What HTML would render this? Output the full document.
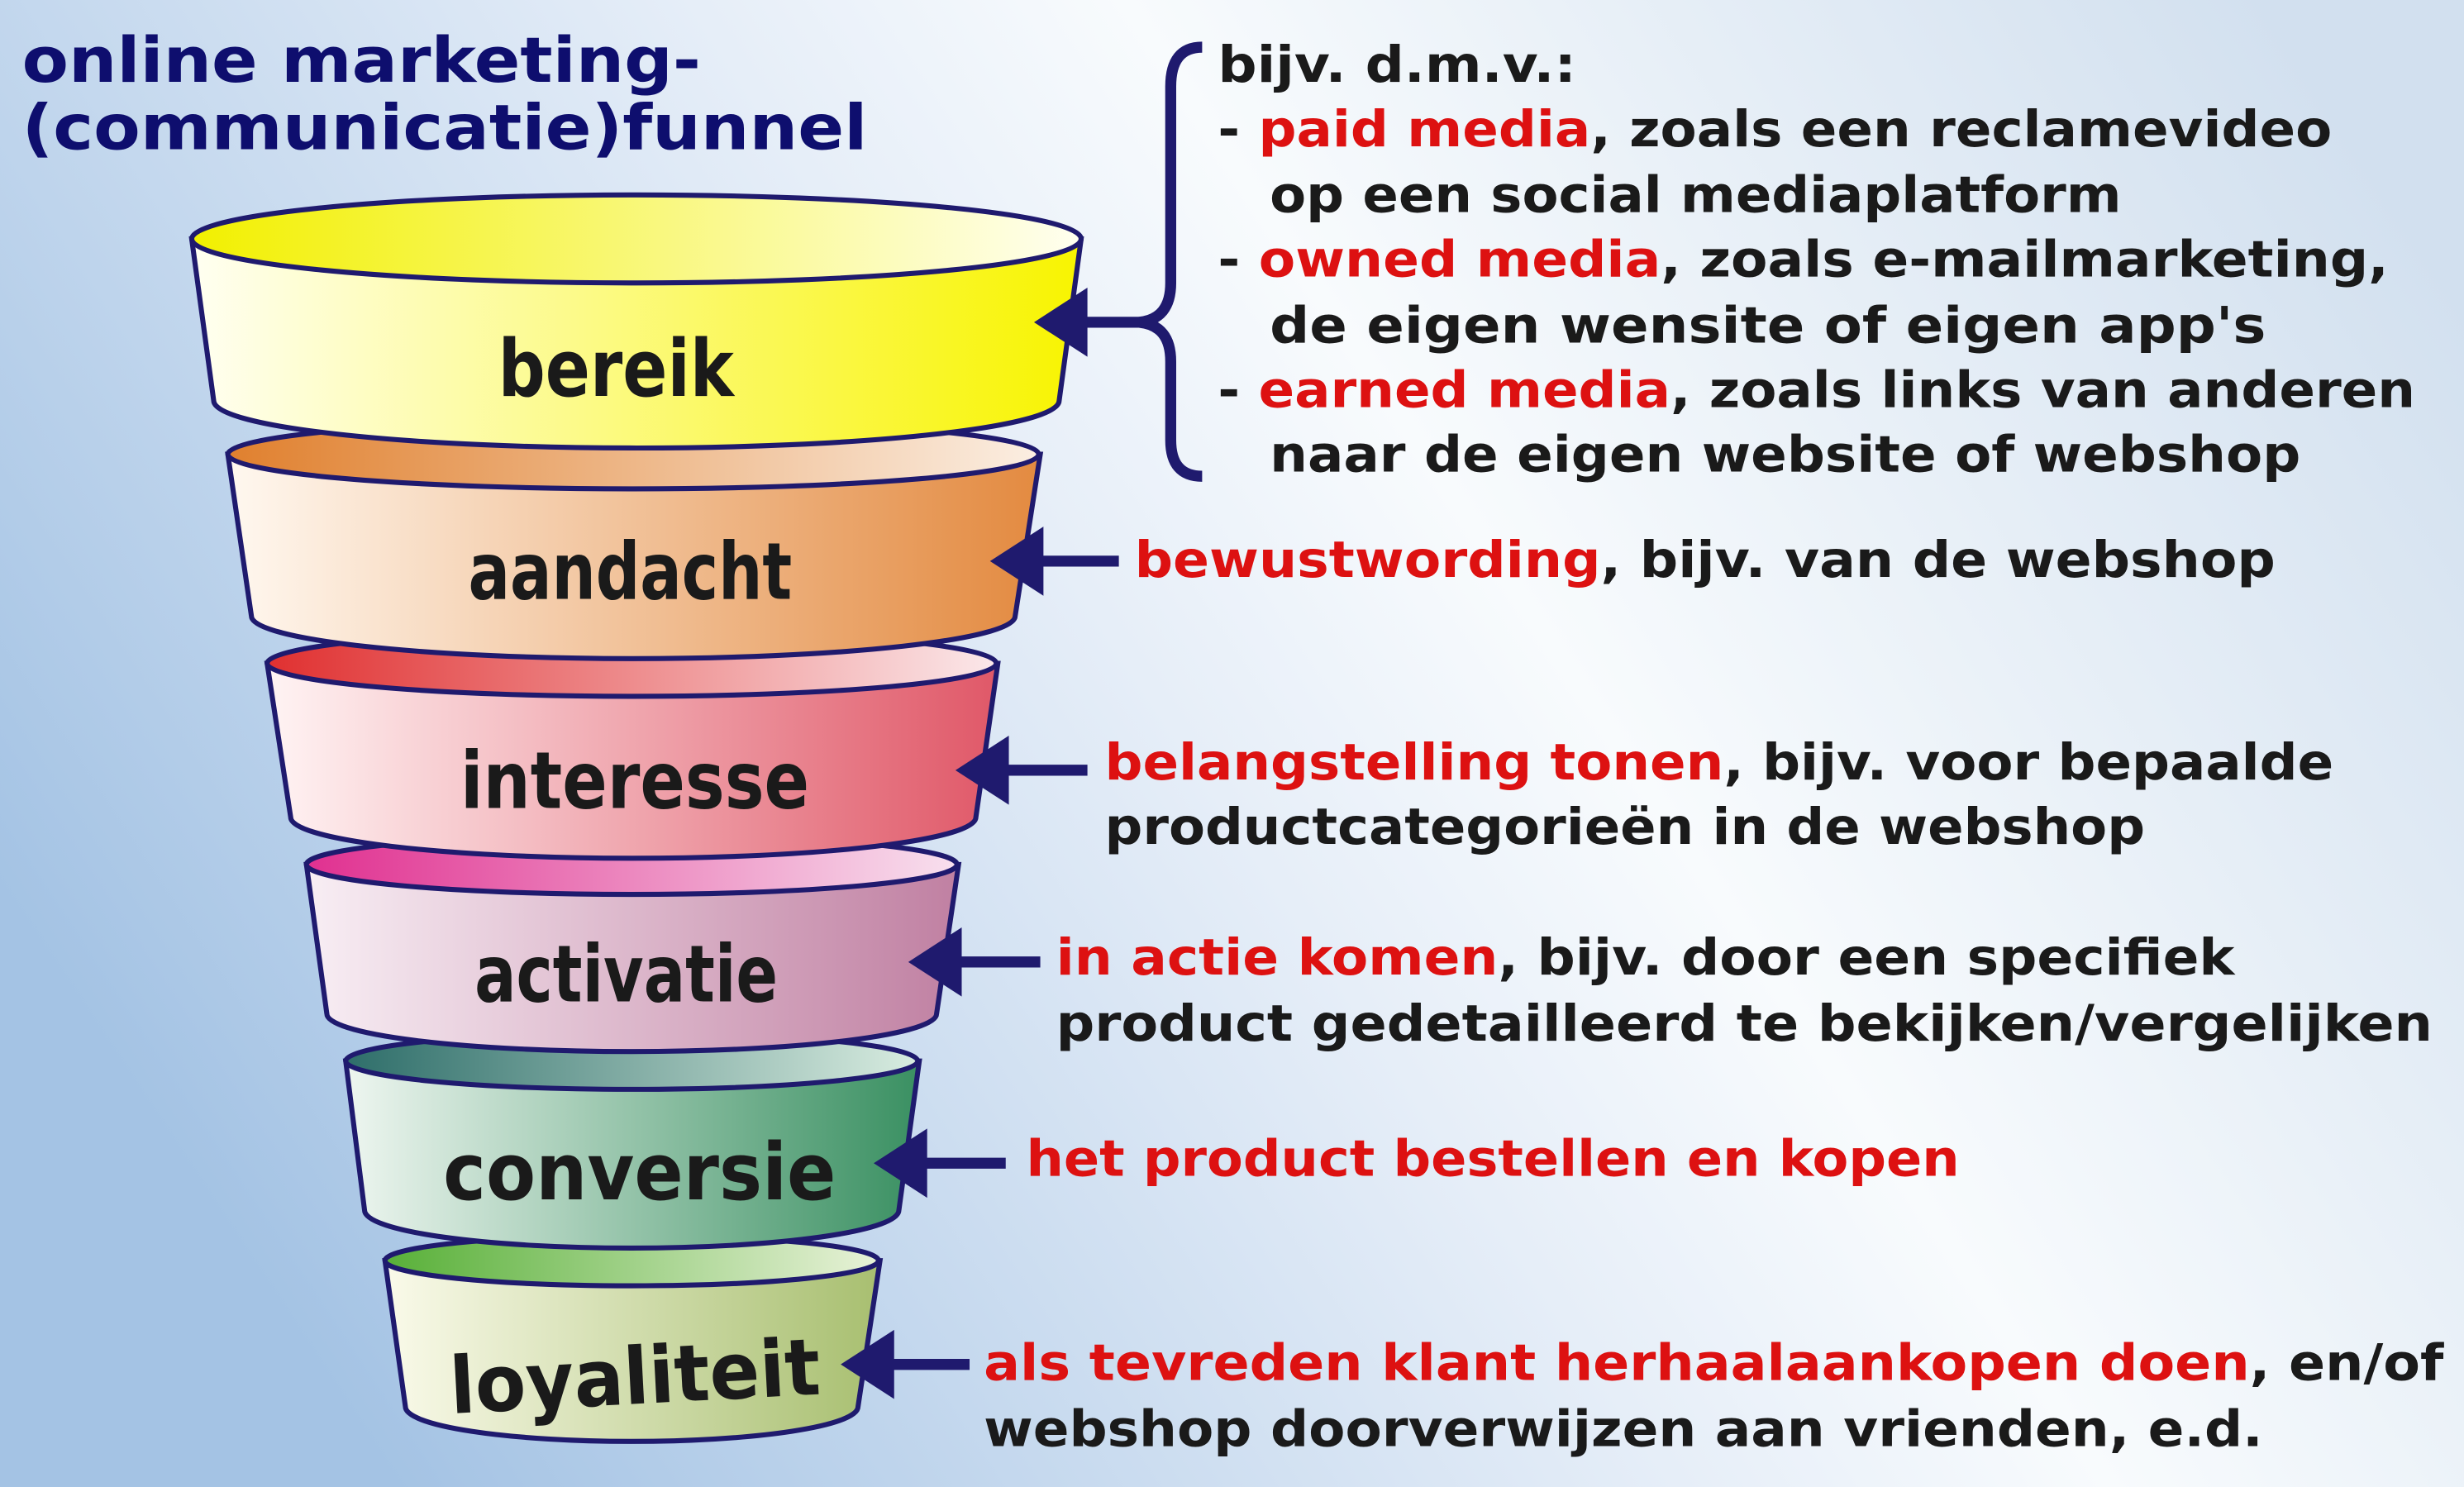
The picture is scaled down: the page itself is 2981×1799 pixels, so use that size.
<!DOCTYPE html>
<html><head><meta charset="utf-8"><style>
html,body{margin:0;padding:0;}
body{width:2981px;height:1799px;overflow:hidden;}
svg{display:block;}
.r{font-family:"DejaVu Sans","Liberation Sans",sans-serif;font-weight:bold;font-size:32px;fill:#1a1a1a;}
.red{fill:#dd1111;}
.lab{font-family:"DejaVu Sans Condensed","DejaVu Sans","Liberation Sans",sans-serif;font-weight:bold;font-size:50px;fill:#1a1a1a;}
</style></head><body>
<svg width="2981" height="1799" viewBox="0 0 1568 946" preserveAspectRatio="none" xmlns="http://www.w3.org/2000/svg">
<defs>
<linearGradient id="bg" x1="0" y1="0.6" x2="1" y2="0.2">
<stop offset="0" stop-color="#a4c3e4"/><stop offset="0.45" stop-color="#e6eef8"/><stop offset="0.6" stop-color="#f8fbfd"/><stop offset="1" stop-color="#d2e0ef"/></linearGradient>
<linearGradient id="b1" x1="0" x2="1"><stop offset="0" stop-color="#fffff2"/><stop offset="1" stop-color="#f8f400"/></linearGradient>
<linearGradient id="t1" x1="0" x2="1"><stop offset="0" stop-color="#f2f000"/><stop offset="1" stop-color="#fffff0"/></linearGradient>
<linearGradient id="b2" x1="0" x2="1"><stop offset="0" stop-color="#fff8f0"/><stop offset="1" stop-color="#e38a40"/></linearGradient>
<linearGradient id="t2" x1="0" x2="1"><stop offset="0" stop-color="#e0802e"/><stop offset="1" stop-color="#fbeee2"/></linearGradient>
<linearGradient id="b3" x1="0" x2="1"><stop offset="0" stop-color="#fff4f4"/><stop offset="1" stop-color="#e05868"/></linearGradient>
<linearGradient id="t3" x1="0" x2="1"><stop offset="0" stop-color="#e03030"/><stop offset="1" stop-color="#fbe8ea"/></linearGradient>
<linearGradient id="b4" x1="0" x2="1"><stop offset="0" stop-color="#f8eef4"/><stop offset="1" stop-color="#c080a2"/></linearGradient>
<linearGradient id="t4" x1="0" x2="1"><stop offset="0" stop-color="#e03090"/><stop offset="1" stop-color="#f8e0ee"/></linearGradient>
<linearGradient id="b5" x1="0" x2="1"><stop offset="0" stop-color="#eef6f0"/><stop offset="1" stop-color="#3a9062"/></linearGradient>
<linearGradient id="t5" x1="0" x2="1"><stop offset="0" stop-color="#2e6e6a"/><stop offset="1" stop-color="#d8ece0"/></linearGradient>
<linearGradient id="b6" x1="0" x2="1"><stop offset="0" stop-color="#fafaea"/><stop offset="1" stop-color="#a8bf70"/></linearGradient>
<linearGradient id="t6" x1="0" x2="1"><stop offset="0" stop-color="#58b038"/><stop offset="1" stop-color="#e8f2d8"/></linearGradient>
</defs>
<rect width="1568" height="946" fill="url(#bg)"/>
<g stroke="#1f1a6e" stroke-width="3.2">
<path d="M245 802 L258 895 A144 22 0 0 0 546 895 L560 802 Z" fill="url(#b6)"/>
<ellipse cx="402" cy="802" rx="157" ry="16" fill="url(#t6)"/>
<path d="M220 675 L232 770 A170 24 0 0 0 572 770 L585 675 Z" fill="url(#b5)"/>
<ellipse cx="402" cy="675" rx="182" ry="18" fill="url(#t5)"/>
<path d="M195 550 L208 645 A194 24 0 0 0 596 645 L610 550 Z" fill="url(#b4)"/>
<ellipse cx="402" cy="550" rx="207" ry="19" fill="url(#t4)"/>
<path d="M170 422 L185 520 A218 26 0 0 0 621 520 L635 422 Z" fill="url(#b3)"/>
<ellipse cx="402" cy="422" rx="232" ry="21" fill="url(#t3)"/>
<path d="M145 289 L160 392 A243 27 0 0 0 646 392 L662 289 Z" fill="url(#b2)"/>
<ellipse cx="403" cy="289" rx="258" ry="22" fill="url(#t2)"/>
<path d="M122 152 L136 255 A269 30 0 0 0 674 255 L688 152 Z" fill="url(#b1)"/>
<ellipse cx="405" cy="152" rx="283" ry="28" fill="url(#t1)"/>
</g>
<text class="lab" x="317" y="252" textLength="150" lengthAdjust="spacingAndGlyphs">bereik</text>
<text class="lab" x="298" y="381" textLength="206" lengthAdjust="spacingAndGlyphs">aandacht</text>
<text class="lab" x="293" y="514" textLength="222" lengthAdjust="spacingAndGlyphs">interesse</text>
<text class="lab" x="302" y="637" textLength="193" lengthAdjust="spacingAndGlyphs">activatie</text>
<text class="lab" x="282" y="763" textLength="250" lengthAdjust="spacingAndGlyphs">conversie</text>
<text class="lab" x="286" y="893" textLength="236" lengthAdjust="spacingAndGlyphs" transform="rotate(-3 405 875)">loyaliteit</text>
<g font-family="DejaVu Sans,Liberation Sans,sans-serif" font-weight="bold" font-size="40" fill="#0e0e6e">
<text x="14" y="52" textLength="432" lengthAdjust="spacingAndGlyphs">online marketing-</text>
<text x="14" y="95" textLength="538" lengthAdjust="spacingAndGlyphs">(communicatie)funnel</text>
</g>
<g stroke="#1f1a6e" fill="none" stroke-width="7">
<path d="M765 30 Q745 30 745 55 L745 180 Q745 203 725 205 Q745 207 745 230 L745 280 Q745 303 765 303"/>
<line x1="725" y1="205" x2="680" y2="205"/>
<line x1="712" y1="357" x2="655" y2="357"/>
<line x1="692" y1="490" x2="633" y2="490"/>
<line x1="662" y1="612" x2="603" y2="612"/>
<line x1="640" y1="740" x2="581" y2="740"/>
<line x1="617" y1="868" x2="560" y2="868"/>
</g>
<g fill="#1f1a6e">
<polygon points="658,205 692,183 692,227"/>
<polygon points="630,357 664,335 664,379"/>
<polygon points="608,490 642,468 642,512"/>
<polygon points="578,612 612,590 612,634"/>
<polygon points="556,740 590,718 590,762"/>
<polygon points="535,868 569,846 569,890"/>
</g>
<text class="r" x="775" y="52" textLength="228" lengthAdjust="spacingAndGlyphs">bijv. d.m.v.:</text>
<text class="r" x="775" y="93" textLength="709" lengthAdjust="spacingAndGlyphs">- <tspan class="red">paid media</tspan>, zoals een reclamevideo</text>
<text class="r" x="808" y="135" textLength="542" lengthAdjust="spacingAndGlyphs">op een social mediaplatform</text>
<text class="r" x="775" y="176" textLength="745" lengthAdjust="spacingAndGlyphs">- <tspan class="red">owned media</tspan>, zoals e-mailmarketing,</text>
<text class="r" x="808" y="218" textLength="634" lengthAdjust="spacingAndGlyphs">de eigen wensite of eigen app's</text>
<text class="r" x="775" y="259" textLength="762" lengthAdjust="spacingAndGlyphs">- <tspan class="red">earned media</tspan>, zoals links van anderen</text>
<text class="r" x="808" y="300" textLength="656" lengthAdjust="spacingAndGlyphs">naar de eigen website of webshop</text>
<text class="r" x="722" y="367" textLength="726" lengthAdjust="spacingAndGlyphs"><tspan class="red">bewustwording</tspan>, bijv. van de webshop</text>
<text class="r" x="703" y="496" textLength="782" lengthAdjust="spacingAndGlyphs"><tspan class="red">belangstelling tonen</tspan>, bijv. voor bepaalde</text>
<text class="r" x="703" y="537" textLength="662" lengthAdjust="spacingAndGlyphs">productcategorieën in de webshop</text>
<text class="r" x="672" y="620" textLength="750" lengthAdjust="spacingAndGlyphs"><tspan class="red">in actie komen</tspan>, bijv. door een specifiek</text>
<text class="r" x="672" y="662" textLength="876" lengthAdjust="spacingAndGlyphs">product gedetailleerd te bekijken/vergelijken</text>
<text class="r red" x="653" y="748" textLength="594" lengthAdjust="spacingAndGlyphs">het product bestellen en kopen</text>
<text class="r" x="626" y="878" textLength="929" lengthAdjust="spacingAndGlyphs"><tspan class="red">als tevreden klant herhaalaankopen doen</tspan>, en/of</text>
<text class="r" x="626" y="920" textLength="814" lengthAdjust="spacingAndGlyphs">webshop doorverwijzen aan vrienden, e.d.</text>
</svg>
</body></html>
